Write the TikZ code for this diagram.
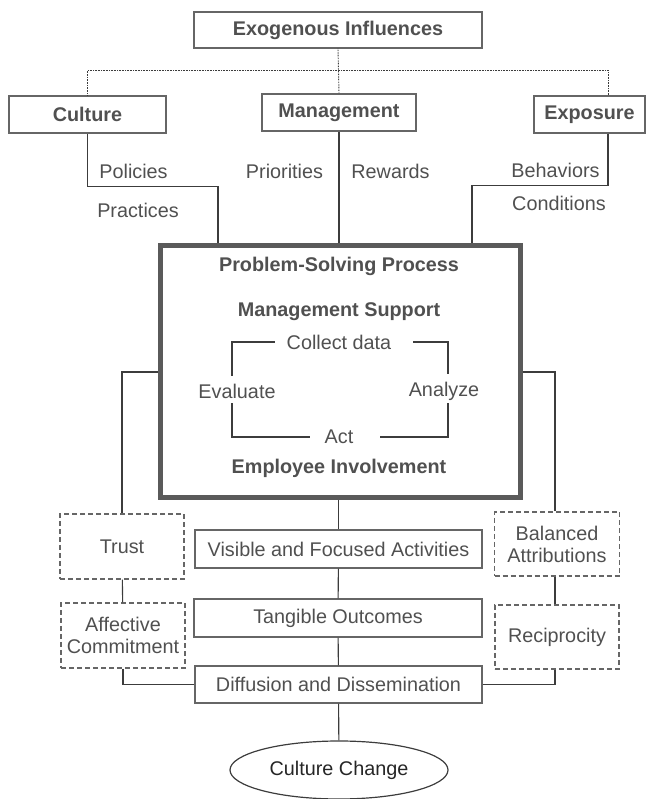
\documentclass[tikz,border=0pt]{standalone}
\usepackage{fontspec}
\setmainfont{Liberation Sans}
\usepackage{tikz}
\usetikzlibrary{calc,shapes,positioning}

\definecolor{txtgray}{HTML}{505050}
\definecolor{boxgray}{HTML}{666666}
\definecolor{linegray}{HTML}{3C3C3C}
\definecolor{pspgray}{HTML}{5A5A5A}

\tikzset{
  lbl/.style={text=txtgray, inner sep=2pt, font=\fontsize{19.8}{22}\selectfont},
  bold/.style={lbl, font=\fontsize{19.8}{22}\selectfont\bfseries},
  box/.style={lbl, draw=boxgray, line width=1.2pt, inner sep=0pt, align=center},
  dbox/.style={box, dash pattern=on 5pt off 3pt},
  link/.style={draw=linegray, line width=1.1pt},
  linkdot/.style={draw=linegray, line width=0.9pt, dash pattern=on 0.8pt off 0.8pt}
}

\begin{document}
\begin{tikzpicture}[x=1pt,y=1pt]
    \useasboundingbox (0,0) rectangle (646,799);
    \node[box,font=\fontsize{19.8}{22}\selectfont\bfseries,minimum width=288pt,minimum height=36pt] (exo) at (338,769) {Exogenous Influences};
    \node[box,font=\fontsize{19.8}{22}\selectfont\bfseries,minimum width=157pt,minimum height=37pt] (cult) at (87.5,684.5) {Culture};
    \node[box,font=\fontsize{19.8}{22}\selectfont\bfseries,minimum width=154pt,minimum height=37pt] (mgmt) at (339,686.5) {Management};
    \node[box,font=\fontsize{19.8}{22}\selectfont\bfseries,minimum width=111pt,minimum height=37pt] (expo) at (589.5,684.5) {Exposure};
    \draw[linkdot] (exo.south) -- (mgmt.north);
    \draw[linkdot] (cult.north) -- ++(0,25) -| ($(expo.north)+(18.5,0)$);
    \node[lbl] (pol) at (133.5,628) {Policies};
    \node[lbl] (prac) at (138,589) {Practices};
    \node[lbl] (prio) at (284.5,628) {Priorities};
    \node[lbl] (rew) at (390.5,628) {Rewards};
    \node[lbl] (beh) at (555.5,629) {Behaviors};
    \node[lbl] (cond) at (559,596) {Conditions};
    \node[draw=pspgray,line width=5pt,minimum width=360pt,minimum height=252pt] (psp) at (340,427) {};
    \draw[link] (cult.south) |- ($(psp.north)+(-122,57)$) -- ($(psp.north)+(-122,0)$);
    \draw[link] (mgmt.south) -- (mgmt.south |- psp.north);
    \draw[link] ($(expo.south)+(18.5,0)$) |- ($(psp.north)+(132,58)$) -- ($(psp.north)+(132,0)$);
    \node[bold] (ptitle) at (339,533) {Problem-Solving Process};
    \node[bold] (msup) at (339,487) {Management Support};
    \node[lbl] (coll) at (339,457) {Collect data};
    \node[lbl] (eval) at (237,408) {Evaluate};
    \node[lbl] (anal) at (444,408) {Analyze};
    \node[lbl] (act) at (339,362) {Act};
    \node[bold] (emp) at (339,331) {Employee Involvement};
    \draw[link] ($(coll.west)+(-10,0)$) -| ($(eval.north)+(-5,6)$);
    \draw[link] ($(coll.east)+(20,0)$) -| ($(anal.north)+(4,6)$);
    \draw[link] ($(eval.south)+(-5,-3)$) |- ($(act.west)+(-13,0)$);
    \draw[link] ($(anal.south)+(4,-1)$) |- ($(act.east)+(24,0)$);
    \node[dbox,minimum width=124pt,minimum height=65pt] (trust) at (122,252.5) {Trust};
    \node[dbox,minimum width=124pt,minimum height=65pt] (aff) at (123,163.5) {Affective\\Commitment};
    \node[dbox,minimum width=125pt,minimum height=64pt] (bal) at (557,255) {Balanced\\Attributions};
    \node[dbox,minimum width=124pt,minimum height=64pt] (recip) at (557,162) {Reciprocity};
    \node[box,minimum width=287pt,minimum height=38pt] (vis) at (338.5,250) {Visible and Focused Activities};
    \node[box,minimum width=288pt,minimum height=38pt] (tang) at (338,181) {Tangible Outcomes};
    \node[box,minimum width=287pt,minimum height=37pt] (diff) at (338.5,114.5) {Diffusion and Dissemination};
    \node[box,ellipse,draw=linegray,text=black!85,minimum width=218pt,minimum height=58pt] (cc) at (339,29) {Culture Change};
    \draw[link] (psp.west) -| (trust.north);
    \draw[link] (psp.east) -| ($(bal.north)+(-2,0)$);
    \draw[link] (trust) -- (aff);
    \draw[link] ($(bal.south)+(-2,0)$) -- ($(recip.north)+(-2,0)$);
    \draw[link] (psp.south -| vis.north) -- (vis.north);
    \draw[link] (vis) -- (tang);
    \draw[link] (tang) -- (diff);
    \draw[link] (diff) -- (cc);
    \draw[link] (aff.south) |- (diff.west);
    \draw[link] ($(recip.south)+(-2,0)$) |- (diff.east);
  \end{tikzpicture}
\end{document}
